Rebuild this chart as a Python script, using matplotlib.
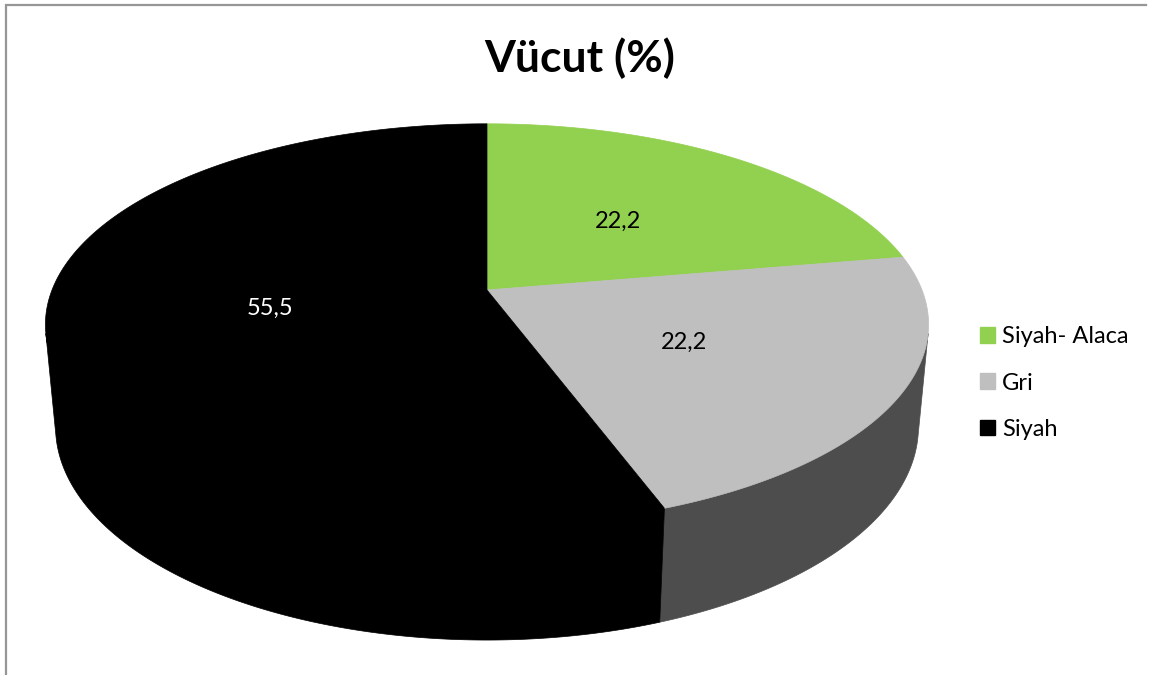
import numpy as np
import matplotlib
matplotlib.use("Agg")
import matplotlib.pyplot as plt
from matplotlib.patches import Polygon, Patch

# =====================
# Veri
# =====================
baslik = "Vücut (%)"
kategoriler = ["Siyah- Alaca", "Gri", "Siyah"]
degerler = [22.2, 22.2, 55.5]
etiketler = ["22,2", "22,2", "55,5"]
ust_renkler = ["#92D050", "#BFBFBF", "#000000"]
yan_renkler = ["#5E8A2E", "#4D4D4D", "#000000"]
etiket_renkleri = ["black", "black", "white"]

# =====================
# 3B pasta görünümü (perspektif)
# =====================
W, H = 1155, 675
cx, cy = 487, 290          # pasta merkezinin ekran konumu
elev = np.deg2rad(26.6)    # bakış açısı
D = 5.2                    # kamera uzaklığı (yarıçap biriminde)
f = 2262                   # odak (piksel)
kalinlik = 0.265           # pasta yüksekliği


def proj(x, y, z):
    depth = D + y * np.cos(elev) - z * np.sin(elev)
    X = cx + f * x / depth
    Y = cy - f * (y * np.sin(elev) + z * np.cos(elev)) / depth
    return X, Y


# yan yüzün görünen kısmı: iki kontur doğrusu arası (ön taraf)
s_kontur = -1 / (D * np.cos(elev))
on_bas = -180 - np.rad2deg(np.arcsin(s_kontur))   # sol kontur
on_son = np.rad2deg(np.arcsin(s_kontur))          # sağ kontur


def gorunen_aralik(a, b):
    # a > b (saat yönünde); ön aralıkla kesişim
    for k in (-360, 0, 360):
        lo = max(min(a, b) + k, on_bas)
        hi = min(max(a, b) + k, on_son)
        if hi > lo:
            return lo, hi
    return None


fig = plt.figure(figsize=(W / 100, H / 100), dpi=100)
ax = fig.add_axes([0, 0, 1, 1])
ax.set_xlim(0, W)
ax.set_ylim(H, 0)
ax.axis("off")

toplam = sum(degerler)
sinirlar = 90 - 360 * np.concatenate([[0], np.cumsum(degerler)]) / toplam

# yan yüzler (önce çizilir, üst yüzler üstüne gelir)
for i in range(len(degerler)):
    aralik = gorunen_aralik(sinirlar[i], sinirlar[i + 1])
    if aralik is None:
        continue
    t = np.deg2rad(np.linspace(aralik[0], aralik[1], 200))
    xs, ys = np.cos(t), np.sin(t)
    # üst kenarı üst yüzün altına biraz taşır, kenar dikişi görünmesin
    zt = 0.05 * np.clip(s_kontur - ys, 0, None)
    ux, uy = proj(xs, ys, zt)
    bx, by = proj(xs, ys, -kalinlik)
    pts = np.column_stack([np.concatenate([ux, bx[::-1]]),
                           np.concatenate([uy, by[::-1]])])
    ax.add_patch(Polygon(pts, closed=True, facecolor=yan_renkler[i],
                         edgecolor=yan_renkler[i], lw=0.5))

# üst yüzler
for i in range(len(degerler)):
    t = np.deg2rad(np.linspace(sinirlar[i], sinirlar[i + 1], 200))
    xs = np.concatenate([[0], np.cos(t)])
    ys = np.concatenate([[0], np.sin(t)])
    px, py = proj(xs, ys, 0)
    ax.add_patch(Polygon(np.column_stack([px, py]), closed=True,
                         facecolor=ust_renkler[i], edgecolor=ust_renkler[i], lw=0.5))

    orta = np.deg2rad((sinirlar[i] + sinirlar[i + 1]) / 2)
    lx, ly = proj(0.5 * np.cos(orta), 0.5 * np.sin(orta), 0)
    ax.text(lx, ly + 1, etiketler[i], ha="center", va="center", fontsize=17,
            family="Lato", color=etiket_renkleri[i])

# başlık
ax.text(580, 58, baslik, ha="center", va="center", fontsize=32,
        fontweight="bold", family="Lato")

# lejant
tutamaclar = [Patch(facecolor=c, edgecolor=c) for c in ust_renkler]
ax.legend(tutamaclar, kategoriler, loc="center left",
          bbox_to_anchor=(968, 383), bbox_transform=ax.transData,
          frameon=False, prop={"family": "Lato", "size": 17},
          handlelength=0.64, handleheight=0.64, handletextpad=0.3,
          labelspacing=1.07, borderpad=0)

# grafik alanı çerçevesi (sol ve üst kenar)
ax.plot([6, 6, 1146], [H, 5, 5], color="#969696", lw=1.6,
        solid_joinstyle="miter")

fig.savefig("out.png", dpi=100)
